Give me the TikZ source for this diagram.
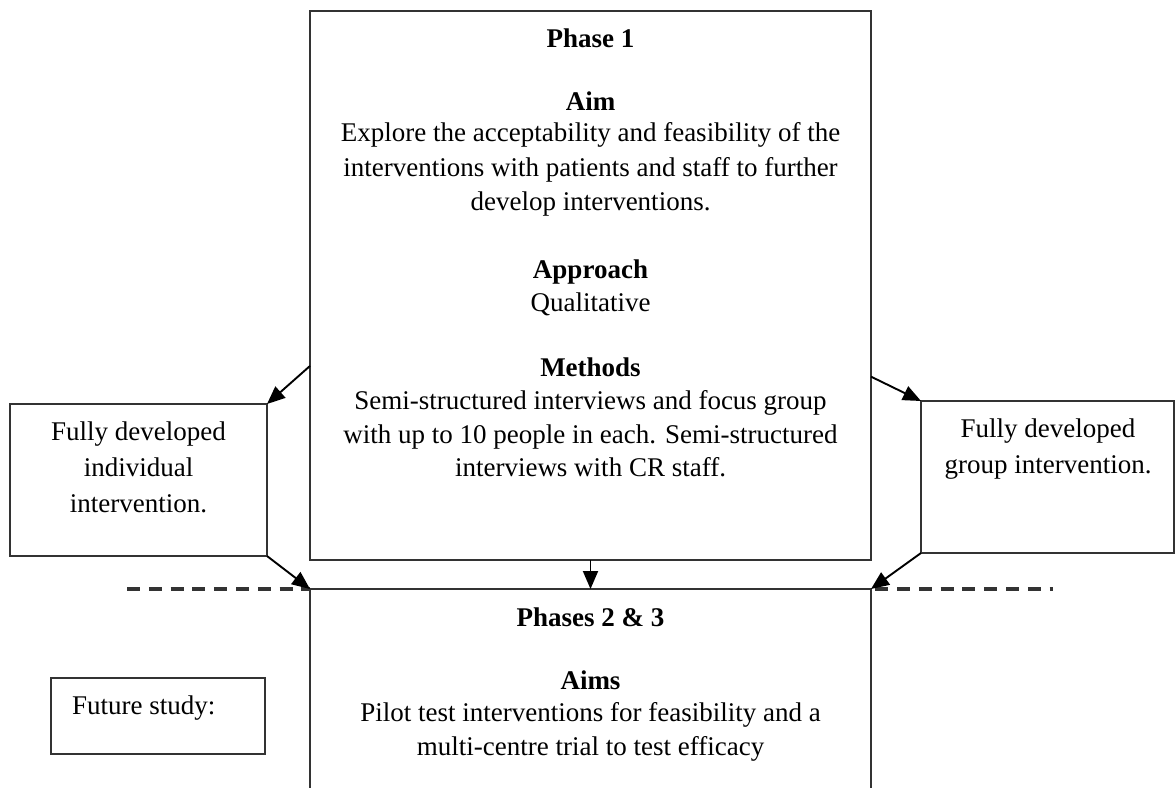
\documentclass[tikz,border=0pt]{standalone}
\usepackage{fontspec}
\setmainfont{Liberation Serif}
\usetikzlibrary{arrows.meta}
\tikzset{
  box/.style={draw=black!80, line width=1.6pt, inner sep=0pt, outer sep=0pt},
  txt/.style={anchor=base, inner sep=0pt, font=\fontsize{27}{33}\selectfont},
  hd/.style={anchor=base, inner sep=0pt, font=\fontsize{27}{33}\selectfont\bfseries},
  arr/.style={draw=black, line width=1.9pt, -{Triangle[length=18pt,width=15pt]}},
  dashline/.style={draw=black!80, line width=3.5pt, dash pattern=on 13pt off 8.8pt},
}
\begin{document}
\begin{tikzpicture}[x=1pt,y=-1pt]
\useasboundingbox (0,0) rectangle (1175,787);
% boxes
\node[box, minimum width=561pt, minimum height=549pt] (p1) at (590.5,285.5) {};
\node[box, minimum width=257pt, minimum height=152pt] (lb) at (138.5,480) {};
\node[box, minimum width=253pt, minimum height=152pt] (rb) at (1047.5,477) {};
\node[box, minimum width=561pt, minimum height=222pt] (bb) at (590.5,700) {};
\node[box, minimum width=214pt, minimum height=76pt] (fb) at (158,716) {};
% dashed separator
\coordinate (dl) at (127,589);
\coordinate (dr) at (1053,589);
\draw[dashline] (dl) -- (bb.north west);
\draw[dashline, dash phase=17.6pt] (bb.north east) -- (dr);
% Phase 1 text
\node[hd]  (t1)  at (590.5,47)  {Phase 1};
\node[hd]  (t2)  at (590.5,110) {Aim};
\node[txt] (t3)  at (590.5,141) {Explore the acceptability and feasibility of the};
\node[txt] (t4)  at (590.5,176) {interventions with patients and staff to further};
\node[txt] (t5)  at (590.5,210) {develop interventions.};
\node[hd]  (t6)  at (590.5,278) {Approach};
\node[txt] (t7)  at (590.5,311) {Qualitative};
\node[hd]  (t8)  at (590.5,376) {Methods};
\node[txt] (t9)  at (590.5,409) {Semi-structured interviews and focus group};
\node[txt] (t10) at (590.5,443) {with up to 10 people in each. Semi-structured};
\node[txt] (t11) at (590.5,476) {interviews with CR staff.};
% left box text
\node[txt] (l1) at (138.5,440) {Fully developed};
\node[txt] (l2) at (138.5,476) {individual};
\node[txt] (l3) at (138.5,512) {intervention.};
% right box text
\node[txt] (r1) at (1048,437) {Fully developed};
\node[txt] (r2) at (1048,473) {group intervention.};
% bottom box text
\node[hd]  (b1) at (590.5,626) {Phases 2 \& 3};
\node[hd]  (b2) at (590.5,689) {Aims};
\node[txt] (b3) at (590.5,721) {Pilot test interventions for feasibility and a};
\node[txt] (b4) at (590.5,755) {multi-centre trial to test efficacy};
% future study
\node[txt, anchor=base west] (f1) at (72,714) {Future study:};
% arrows
\draw[arr] (p1.196.2) -- (lb.north east);
\draw[arr] (p1.342.7) -- (rb.north west);
\draw[arr] (lb.south east) -- (bb.north west);
\draw[arr] (rb.south west) -- (bb.north east);
\draw[arr] (p1.south) -- (bb.north);
\end{tikzpicture}
\end{document}
